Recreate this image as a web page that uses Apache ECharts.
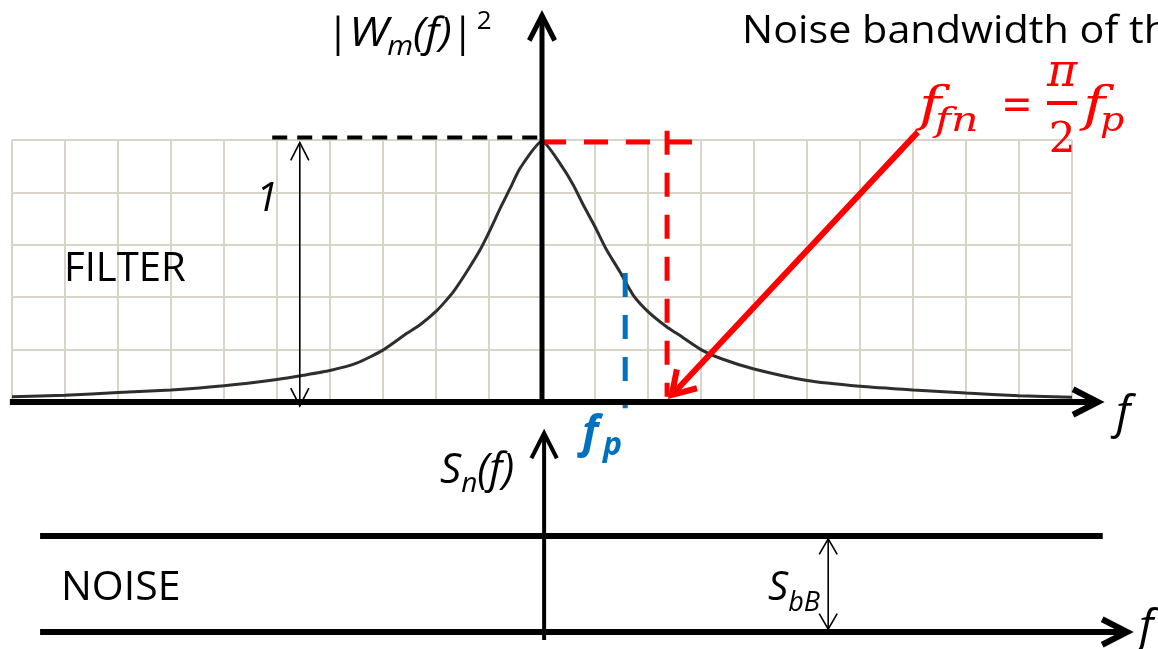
<!DOCTYPE html>
<html>
<head>
<meta charset="utf-8">
<script src="https://cdn.jsdelivr.net/npm/echarts@6/dist/echarts.min.js"></script>
<style>
  html, body { margin: 0; padding: 0; background: #ffffff; }
  #chart { width: 1158px; height: 649px; }
</style>
</head>
<body>
<div id="chart"></div>
<script>
// Filter response |W_m(f)|^2 against f (one f unit = one grid square)
const freq = [-10, -9, -8, -7, -6, -5, -4.5, -4, -3.5, -3, -2.55, -2.3, -1.98, -1.82, -1.67, -1.42, -1.17, -0.98, -0.79, -0.6, -0.415, 0,
              0.4, 0.59, 0.78, 1, 1.22, 1.47, 1.72, 2, 2.35, 2.54, 3, 3.4, 4, 5, 6, 7, 8, 9, 10];
const gain = [0.02, 0.026, 0.036, 0.046, 0.062, 0.086, 0.102, 0.12, 0.148, 0.198, 0.262, 0.295, 0.35, 0.385, 0.421, 0.497, 0.58, 0.656, 0.739, 0.816, 0.892, 0.995,
              0.892, 0.828, 0.752, 0.669, 0.58, 0.497, 0.408, 0.345, 0.287, 0.262, 0.2, 0.164, 0.126, 0.082, 0.06, 0.046, 0.034, 0.024, 0.018];

// Marker values
const peakGain = 1;        // |W_m(0)|^2
const halfPower = 0.5;     // level where the f_p marker starts
const fP = 1.57;           // pole frequency f_p
const fFn = 2.36;          // noise bandwidth f_fn
const noiseLevel = 1;      // white noise density S_bB

// Grid ticks of the filter panel
const fTicks = { min: -10, max: 10, step: 1 };
const gTicks = { min: 0, max: 1, step: 0.2 };

// ---------------------------------------------------------------------------
const SANS = "'Open Sans', 'Noto Sans', sans-serif";
const SERIF = "'DejaVu Serif', serif";
const RED = '#ff0000';
const BLUE = '#0070c0';
const GRIDC = '#d8d4c8';

const chart = echarts.init(document.getElementById('chart'), null, { renderer: 'canvas' });

// text runs laid out on a common baseline
const mctx = document.createElement('canvas').getContext('2d');
function fontOf(p) {
  return (p.it ? 'italic ' : 'normal ') + (p.bold ? 'bold ' : 'normal ') + p.size + 'px ' + (p.family || SANS);
}
function baseOffset(font) {
  mctx.font = font;
  mctx.textBaseline = 'middle';
  return mctx.measureText('H').actualBoundingBoxDescent;
}
function textAt(x, baseY, p, align) {
  const font = fontOf(p);
  return {
    type: 'text', x: x, y: baseY + (p.dy || 0) - baseOffset(font), z: 50,
    scaleX: p.sx || 1,
    style: { text: p.t, font: font, fill: p.fill || '#000',
             align: align || 'left', verticalAlign: 'middle',
             textAlign: align || 'left', textVerticalAlign: 'middle' }
  };
}
function run(x, baseY, parts) {
  const out = [];
  let cx = x;
  parts.forEach(p => {
    out.push(textAt(cx, baseY, p));
    mctx.font = fontOf(p);
    cx += mctx.measureText(p.t).width * (p.sx || 1) + (p.kern || 0);
  });
  return out;
}

// straight guide segments (data coordinates)
const segTop = [
  { pts: [[-5.09, peakGain * 1.01], [0, peakGain * 1.01]], color: '#000', w: 4, dash: [15, 10] },
  { pts: [[0, peakGain * 0.992], [fFn + 0.6, peakGain * 0.992]], color: RED, w: 5, dash: [24, 18] },
  { pts: [[fFn, peakGain * 1.035], [fFn, 0.02]], color: RED, w: 5, dash: [24, 18] },
  { pts: [[fP, halfPower - 0.008], [fP, -0.024]], color: BLUE, w: 5, dash: [24, 18] }
];
const segBottom = [
  { pts: [[-9.47, noiseLevel], [10.58, noiseLevel]], color: '#000', w: 6, dash: null }
];

// arrows: shaft from -> to, chevron heads
const arrowsTop = [
  { from: [0, 0], to: [0, 1.475], w: 5, color: '#000', len: 28, ang: 27, heads: ['end'] },
  { from: [-10.04, 0], to: [10.49, 0], w: 6, color: '#000', len: 28, ang: 27, heads: ['end'] },
  { from: [-4.57, peakGain * 0.99], to: [-4.57, -0.015], w: 1.6, color: '#000', len: 20, ang: 27, heads: ['start', 'end'] },
  { from: [7.09, 1.03], to: [2.45, 0.027], w: 6, color: RED, len: 26, ang: 32, heads: ['end'] }
];
const arrowsBottom = [
  { from: [-9.47, 0], to: [11.04, 0], w: 6, color: '#000', len: 28, ang: 27, heads: ['end'] },
  { from: [0.04, -0.083], to: [0.04, 2.07], w: 4, color: '#000', len: 28, ang: 27, heads: ['end'] },
  { from: [5.4, noiseLevel * 0.97], to: [5.4, 0.03], w: 1.6, color: '#000', len: 18, ang: 30, heads: ['start', 'end'] }
];

function chevron(tip, back, len, ang) {
  // back: unit vector pointing from tip along the shaft
  const a = ang * Math.PI / 180;
  const r = (s) => [back[0] * Math.cos(s) - back[1] * Math.sin(s), back[0] * Math.sin(s) + back[1] * Math.cos(s)];
  const v1 = r(a), v2 = r(-a);
  return [[tip[0] + v1[0] * len, tip[1] + v1[1] * len], tip, [tip[0] + v2[0] * len, tip[1] + v2[1] * len]];
}
function arrowRenderer(list) {
  return function (params, api) {
    const a = list[params.dataIndex];
    const p1 = api.coord(a.from), p2 = api.coord(a.to);
    const dx = p2[0] - p1[0], dy = p2[1] - p1[1];
    const L = Math.hypot(dx, dy);
    const u = [dx / L, dy / L];
    const st = { stroke: a.color, lineWidth: a.w, fill: null, lineJoin: 'miter', lineCap: 'butt' };
    const children = [{ type: 'line', shape: { x1: p1[0], y1: p1[1], x2: p2[0], y2: p2[1] }, style: st }];
    if (a.heads.indexOf('end') >= 0) {
      children.push({ type: 'polyline', shape: { points: chevron(p2, [-u[0], -u[1]], a.len, a.ang) }, style: st });
    }
    if (a.heads.indexOf('start') >= 0) {
      children.push({ type: 'polyline', shape: { points: chevron(p1, u, a.len, a.ang) }, style: st });
    }
    return { type: 'group', children: children };
  };
}
function segmentRenderer(list) {
  return function (params, api) {
    const s = list[params.dataIndex];
    return {
      type: 'polyline',
      shape: { points: s.pts.map(p => api.coord(p)) },
      style: { stroke: s.color, lineWidth: s.w, fill: null, lineDash: s.dash, lineCap: 'butt' }
    };
  };
}

// free text
const texts = [].concat(
  run(742, 43, [{ t: 'Noise bandwidth of the filter', size: 39, sx: 1.06 }]),
  run(327, 46, [
    { t: '|', size: 40 },
    { t: 'W', size: 40, it: true, sx: 1.15, kern: -1 },
    { t: 'm', size: 27, it: true, dy: 9, sx: 1.1 },
    { t: '(f)', size: 40, it: true, sx: 1.1 },
    { t: '|', size: 40, kern: 3 },
    { t: '2', size: 26, dy: -17 }
  ]),
  run(256, 211, [{ t: '1', size: 40, it: true }]),
  run(64, 281, [{ t: 'FILTER', size: 40 }]),
  run(1116, 428, [{ t: 'f', size: 46, it: true }]),
  [textAt(582, 447, { t: 'f', size: 44, it: true, bold: true, fill: BLUE })],
  [textAt(603, 455, { t: 'p', size: 32, it: true, bold: true, fill: BLUE })],
  run(440, 483, [
    { t: 'S', size: 42, it: true },
    { t: 'n', size: 28, it: true, dy: 9 },
    { t: '(f)', size: 42, it: true }
  ]),
  run(61, 600, [{ t: 'NOISE', size: 41 }]),
  run(768, 600, [
    { t: 'S', size: 40, it: true },
    { t: 'bB', size: 27, it: true, dy: 11 }
  ]),
  run(1139, 642, [{ t: 'f', size: 46, it: true }]),
  // f_fn = (pi/2) f_p
  [textAt(919, 121, { t: 'f', size: 48, it: true, family: SERIF, fill: RED, sx: 1.25 })],
  [textAt(935, 131, { t: 'fn', size: 33, it: true, family: SERIF, fill: RED, sx: 1.3 })],
  [textAt(1017, 119, { t: '=', size: 44, family: SERIF, fill: RED, sx: 0.85 }, 'center')],
  [textAt(1062, 86, { t: 'π', size: 46, it: true, family: SERIF, fill: RED }, 'center')],
  [{ type: 'rect', shape: { x: 1047, y: 101, width: 30, height: 4 }, style: { fill: RED }, z: 50 }],
  [textAt(1062, 152, { t: '2', size: 42, family: SERIF, fill: RED }, 'center')],
  [textAt(1083, 121, { t: 'f', size: 48, it: true, family: SERIF, fill: RED, sx: 1.25 })],
  [textAt(1100, 131, { t: 'p', size: 33, it: true, family: SERIF, fill: RED, sx: 1.15 })]
);

const hiddenAxis = (extra) => Object.assign({
  type: 'value',
  axisLine: { show: false }, axisTick: { show: false }, axisLabel: { show: false }
}, extra);

chart.setOption({
  backgroundColor: '#ffffff',
  animation: false,
  grid: [
    { left: 12, top: 140, width: 1060, height: 262 },
    { left: 12, top: 536, width: 1060, height: 96 }
  ],
  xAxis: [
    hiddenAxis({ gridIndex: 0, min: fTicks.min, max: fTicks.max, interval: fTicks.step,
                 splitLine: { show: true, lineStyle: { color: GRIDC, width: 2 } } }),
    hiddenAxis({ gridIndex: 1, min: fTicks.min, max: fTicks.max, splitLine: { show: false } })
  ],
  yAxis: [
    hiddenAxis({ gridIndex: 0, min: gTicks.min, max: gTicks.max, interval: gTicks.step,
                 splitLine: { show: true, lineStyle: { color: GRIDC, width: 2 } } }),
    hiddenAxis({ gridIndex: 1, min: 0, max: 1, splitLine: { show: false } })
  ],
  series: [
    { type: 'line', name: 'filter', xAxisIndex: 0, yAxisIndex: 0, data: freq.map((f, i) => [f, gain[i]]),
      symbol: 'none', smooth: 0.2, clip: false, lineStyle: { color: '#2e2e2e', width: 3 }, z: 4 },
    { type: 'custom', name: 'guides', xAxisIndex: 0, yAxisIndex: 0, clip: false, z: 5,
      data: segTop.map((s, i) => [i]), renderItem: segmentRenderer(segTop) },
    { type: 'custom', name: 'axes', xAxisIndex: 0, yAxisIndex: 0, clip: false, z: 6,
      data: arrowsTop.map((a, i) => [i]), renderItem: arrowRenderer(arrowsTop) },
    { type: 'custom', name: 'noise', xAxisIndex: 1, yAxisIndex: 1, clip: false, z: 5,
      data: segBottom.map((s, i) => [i]), renderItem: segmentRenderer(segBottom) },
    { type: 'custom', name: 'noise axes', xAxisIndex: 1, yAxisIndex: 1, clip: false, z: 6,
      data: arrowsBottom.map((a, i) => [i]), renderItem: arrowRenderer(arrowsBottom) }
  ],
  graphic: texts
});
</script>
</body>
</html>
